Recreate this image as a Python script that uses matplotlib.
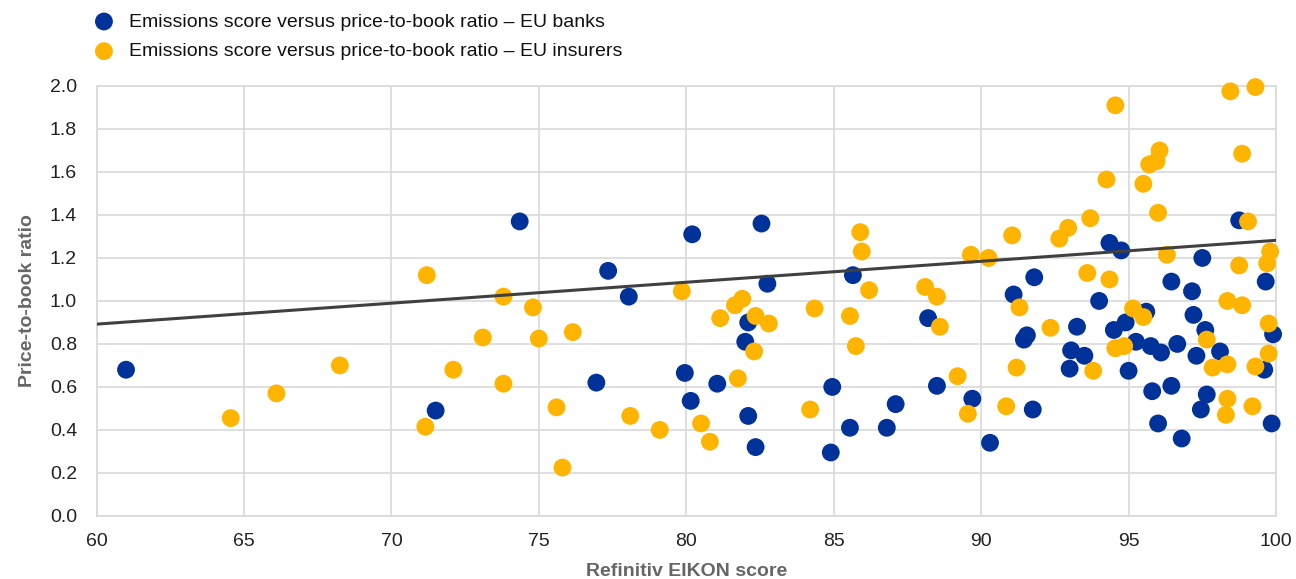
import numpy as np
import matplotlib.pyplot as plt

plt.rcParams['font.family'] = ['Liberation Sans', 'DejaVu Sans']

# EU banks: Refinitiv EIKON emissions score vs price-to-book ratio
banks_score = [61.0, 71.5, 74.35, 80.2, 82.55, 77.35, 78.05, 82.75, 82.1, 82.0,
               76.95, 79.95, 80.15, 81.05, 82.1, 82.35, 84.95, 84.9, 85.55, 85.65,
               86.8, 87.1, 98.75, 94.35, 94.75, 97.5, 91.8, 96.45, 97.15, 91.1,
               94.0, 99.65, 88.2, 91.45, 91.55, 93.25, 94.5, 94.9, 95.6, 93.05,
               93.5, 93.0, 95.0, 95.25, 95.75, 96.1, 96.65, 97.2, 97.6, 97.3,
               98.1, 99.9, 99.6, 95.8, 96.45, 97.65, 97.45, 96.0, 96.8, 99.85,
               88.5, 89.7, 90.3, 91.75]
banks_pb = [0.68, 0.49, 1.37, 1.31, 1.36, 1.14, 1.02, 1.08, 0.90, 0.81,
            0.62, 0.665, 0.535, 0.615, 0.465, 0.32, 0.60, 0.295, 0.41, 1.12,
            0.41, 0.52, 1.375, 1.27, 1.235, 1.20, 1.11, 1.09, 1.045, 1.03,
            1.00, 1.09, 0.92, 0.82, 0.84, 0.88, 0.865, 0.90, 0.95, 0.77,
            0.745, 0.685, 0.675, 0.81, 0.79, 0.76, 0.80, 0.935, 0.865, 0.745,
            0.765, 0.845, 0.68, 0.58, 0.605, 0.565, 0.495, 0.43, 0.36, 0.43,
            0.605, 0.545, 0.34, 0.495]

# EU insurers
ins_score = [71.2, 73.8, 73.1, 72.1, 73.8, 71.15, 68.25, 66.1, 64.55, 74.8,
             75.0, 76.15, 75.6, 75.8, 78.1, 79.1, 79.85, 80.5, 80.8, 81.15,
             81.65, 81.9, 82.35, 82.8, 82.3, 81.75, 84.35, 84.2, 85.55, 85.75,
             85.9, 85.95, 86.2, 98.45, 99.3, 94.55, 96.05, 95.95, 95.7, 98.85,
             94.25, 95.5, 96.0, 99.05, 93.7, 92.95, 92.65, 91.05, 89.65, 90.25,
             96.3, 99.8, 99.7, 98.75, 93.6, 94.35, 88.1, 88.5, 91.3, 95.15,
             95.5, 98.35, 98.85, 88.6, 92.35, 91.2, 89.2, 89.55, 90.85, 93.8,
             94.55, 94.85, 97.65, 97.85, 98.35, 99.3, 99.75, 99.75, 98.35, 98.3,
             99.2]
ins_pb = [1.12, 1.02, 0.83, 0.68, 0.615, 0.415, 0.70, 0.57, 0.455, 0.97,
          0.825, 0.855, 0.505, 0.225, 0.465, 0.40, 1.045, 0.43, 0.345, 0.92,
          0.98, 1.01, 0.93, 0.895, 0.765, 0.64, 0.965, 0.495, 0.93, 0.79,
          1.32, 1.23, 1.05, 1.975, 1.995, 1.91, 1.70, 1.65, 1.635, 1.685,
          1.565, 1.545, 1.41, 1.37, 1.385, 1.34, 1.29, 1.305, 1.215, 1.20,
          1.215, 1.23, 1.175, 1.165, 1.13, 1.10, 1.065, 1.02, 0.97, 0.965,
          0.925, 1.00, 0.98, 0.88, 0.875, 0.69, 0.65, 0.475, 0.51, 0.675,
          0.78, 0.79, 0.82, 0.69, 0.705, 0.695, 0.755, 0.895, 0.545, 0.47,
          0.51]

# linear trend line (value at score 60, slope)
trend_x = [60, 100]
trend_at60 = 0.892
trend_slope = 0.00975

blue = '#003299'
yellow = '#FFB400'

fig = plt.figure(figsize=(12.96, 5.79), dpi=100)
ax = fig.add_axes([0.0745, 0.109, 0.9101, 0.7425])

ax.scatter(banks_score, banks_pb, s=165, color=blue, edgecolors='none', zorder=3,
           clip_on=False, label='Emissions score versus price-to-book ratio – EU banks')
ax.scatter(ins_score, ins_pb, s=165, color=yellow, edgecolors='none', zorder=3,
           clip_on=False, label='Emissions score versus price-to-book ratio – EU insurers')

tx = np.array(trend_x)
ax.plot(tx, trend_at60 + trend_slope * (tx - 60), color='#404040', lw=2.2, zorder=4)

ax.set_xlim(60, 100)
ax.set_ylim(0, 2.0)
ax.set_xticks(range(60, 101, 5))
ax.set_yticks(np.arange(0, 2.01, 0.2))
ax.set_yticklabels([f'{v:.1f}' for v in np.arange(0, 2.01, 0.2)])
ax.grid(True, color='#d9d9d9', lw=1.2, zorder=0)
ax.set_axisbelow(True)
for s in ax.spines.values():
    s.set_color('#d9d9d9')
    s.set_linewidth(1.2)
ax.tick_params(length=0, labelsize=14, colors='#222222')
ax.tick_params(axis='y', pad=14)
ax.tick_params(axis='x', pad=12)

ax.set_ylabel('Price-to-book ratio', fontsize=14, color='#666666', fontweight='bold', labelpad=10)
ax.set_xlabel('Refinitiv EIKON score', fontsize=14, color='#666666', fontweight='bold', labelpad=10)

fig.legend(loc='upper left', bbox_to_anchor=(0.0667, 0.991), frameon=False, fontsize=14,
           handlelength=1.0, handletextpad=0.8, labelspacing=0.62, borderaxespad=0,
           labelcolor='#111111')

plt.savefig('out.png', dpi=100)
